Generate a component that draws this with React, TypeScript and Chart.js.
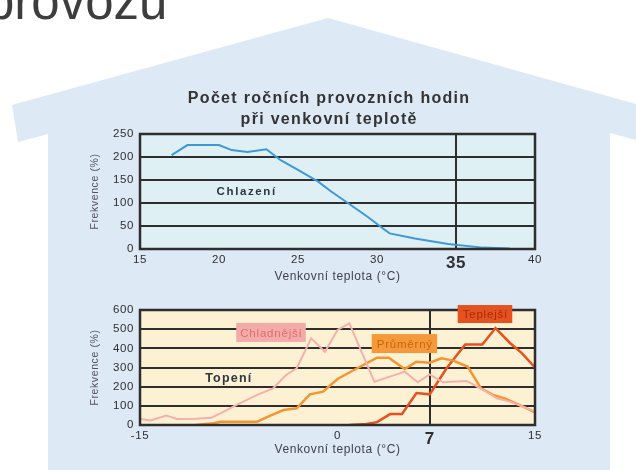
import React, { useEffect, useRef } from "react";
import { Chart, registerables } from "chart.js";

Chart.register(...registerables);
Chart.defaults.font.family = "'Liberation Sans', Arial, sans-serif";

// ---------- Cooling (Chlazení) ----------
const COOL_TEMP = [17, 18, 20, 20.8, 21.8, 23, 23.9, 25, 26.3, 27.1, 28.2, 29.4, 30.4, 30.8, 32.4, 34.5, 36.7, 38.4];
const COOL_FREQ = [204, 226, 226, 215, 211, 217, 193, 172, 146, 125, 99, 70, 44, 34, 23, 11, 3, 1];
const COOL_X_TICKS = [15, 20, 25, 30, 35, 40];
const COOL_Y_TICKS = [0, 50, 100, 150, 200, 250];
const COOL_MARK = 35;

// ---------- Heating (Topení) ----------
const COLD_TEMP = [-15, -14.2, -13, -12.2, -10.7, -9.6, -8.9, -7.7, -6.1, -4.9, -3.9, -3.1, -2, -0.95, 0, 0.9, 2.8, 4.5, 5.1, 6.1, 7, 8, 9.8, 10.3, 11.3, 12.1, 13.1, 15];
const COLD_FREQ = [31, 24, 49, 31, 33, 38, 61, 104, 157, 191, 261, 296, 452, 382, 496, 530, 226, 264, 278, 223, 264, 223, 230, 212, 174, 139, 122, 72];
const AVG_TEMP = [-10.8, -9.4, -8.9, -6.1, -5.1, -4.1, -3.1, -2.1, -1.1, 0, 1.5, 3, 3.9, 5.1, 6, 7, 7.9, 8.8, 9.9, 10.9, 11.8, 12.7, 14.1, 15];
const AVG_FREQ = [0, 9, 17, 17, 49, 78, 87, 160, 174, 240, 296, 351, 351, 292, 330, 325, 348, 336, 304, 191, 157, 139, 96, 66];
const WARM_TEMP = [0.9, 2.2, 3, 4, 4.9, 6, 7, 8.3, 9.7, 11, 12, 13.1, 14, 15];
const WARM_FREQ = [0, 5, 15, 57, 57, 167, 160, 297, 420, 420, 506, 428, 375, 300];
const HEAT_X_TICKS = [-15, 0, 7, 15];
const HEAT_Y_TICKS = [0, 100, 200, 300, 400, 500, 600];
const HEAT_MARK = 7;

const TITLE_LINES = ["Počet ročních provozních hodin", "při venkovní teplotě"];
const Y_TITLE = "Frekvence (%)";
const X_TITLE = "Venkovní teplota (°C)";

const pts = (xs: number[], ys: number[]) => xs.map((x, i) => ({ x, y: ys[i] }));

const GRID = "#2e2e2e";
const TICK_COLOR = "#2f2f33";

const framePlugin = (bg: string) => ({
  id: "frame",
  beforeDraw(chart: any) {
    const { ctx, chartArea: a } = chart;
    ctx.letterSpacing = "0.6px";
    ctx.save();
    ctx.fillStyle = bg;
    ctx.fillRect(a.left, a.top, a.right - a.left, a.bottom - a.top);
    ctx.restore();
  },
  afterDatasetsDraw(chart: any) {
    const { ctx, chartArea: a } = chart;
    ctx.save();
    ctx.strokeStyle = GRID;
    ctx.lineWidth = 2.5;
    ctx.strokeRect(a.left, a.top, a.right - a.left, a.bottom - a.top);
    ctx.restore();
  },
});

type Note = {
  text: string;
  x: number;
  y: number;
  font: string;
  color: string;
  spacing: number;
  bg?: string;
  padX?: number;
  h?: number;
};

const notesPlugin = (list: Note[]) => ({
  id: "notes",
  afterDatasetsDraw(chart: any) {
    const { ctx, scales } = chart;
    list.forEach((n) => {
      const px = scales.x.getPixelForValue(n.x);
      const py = scales.y.getPixelForValue(n.y);
      ctx.save();
      ctx.font = n.font;
      ctx.letterSpacing = n.spacing + "px";
      const w = ctx.measureText(n.text).width - n.spacing;
      if (n.bg) {
        const padX = n.padX ?? 4;
        const h = n.h ?? 19;
        ctx.fillStyle = n.bg;
        ctx.fillRect(px - w / 2 - padX, py - h / 2, w + 2 * padX, h);
      }
      ctx.fillStyle = n.color;
      ctx.textAlign = "left";
      ctx.textBaseline = "middle";
      ctx.fillText(n.text, px - w / 2, py + 1);
      ctx.restore();
    });
  },
});

const headlinePlugin = (lines: string[]) => ({
  id: "headline",
  afterDraw(chart: any) {
    const { ctx, chartArea: a } = chart;
    ctx.save();
    ctx.font = "bold 16px 'Liberation Sans', Arial, sans-serif";
    ctx.letterSpacing = "1.3px";
    ctx.fillStyle = "#333333";
    ctx.textAlign = "left";
    ctx.textBaseline = "alphabetic";
    const cx = (a.left + a.right) / 2 - 9;
    lines.forEach((t, i) => {
      const w = ctx.measureText(t).width - 1.3;
      ctx.fillText(t, cx - w / 2, a.top - 31 + i * 21);
    });
    ctx.restore();
  },
});

function makeScales(opts: {
  xTicks: number[];
  yTicks: number[];
  mark: number;
  xHeight: number;
  xTitlePad: number;
}) {
  const { xTicks, yTicks, mark, xHeight, xTitlePad } = opts;
  return {
    x: {
      type: "linear",
      min: xTicks[0],
      max: xTicks[xTicks.length - 1],
      afterBuildTicks: (s: any) => {
        s.ticks = xTicks.map((v) => ({ value: v }));
      },
      afterFit: (s: any) => {
        s.height = xHeight;
      },
      border: { display: false },
      grid: {
        drawTicks: false,
        lineWidth: 2,
        color: (c: any) => (c.tick && c.tick.value === mark ? GRID : "rgba(0,0,0,0)"),
      },
      ticks: {
        padding: 4,
        color: TICK_COLOR,
        maxRotation: 0,
        autoSkip: false,
        font: (c: any) =>
          c.tick && c.tick.value === mark ? { size: 17, weight: "bold" } : { size: 11.5 },
        callback: (v: any) => String(v),
      },
      title: {
        display: true,
        text: X_TITLE,
        color: "#42424f",
        font: { size: 12 },
        padding: { top: 0, bottom: xTitlePad },
      },
    },
    y: {
      min: yTicks[0],
      max: yTicks[yTicks.length - 1],
      afterBuildTicks: (s: any) => {
        s.ticks = yTicks.map((v) => ({ value: v }));
      },
      afterFit: (s: any) => {
        s.width = 60;
      },
      border: { display: false },
      grid: { drawTicks: false, lineWidth: 2, color: GRID },
      ticks: {
        padding: 6,
        color: TICK_COLOR,
        font: { size: 11.5 },
        callback: (v: any) => String(v),
      },
      title: {
        display: true,
        text: Y_TITLE,
        color: "#535360",
        font: { size: 10.5 },
        padding: { top: 9, bottom: 0 },
      },
    },
  };
}

function ChartBox(props: { make: () => any; left: number; top: number; width: number; height: number }) {
  const ref = useRef<HTMLCanvasElement>(null);
  useEffect(() => {
    const chart = new Chart(ref.current as HTMLCanvasElement, props.make());
    return () => chart.destroy();
  }, []);
  return (
    <canvas
      ref={ref}
      width={props.width}
      height={props.height}
      style={{
        position: "absolute",
        left: props.left,
        top: props.top,
        width: props.width,
        height: props.height,
      }}
    />
  );
}

const coolConfig = () => ({
  type: "line",
  data: {
    datasets: [
      {
        label: "Chlazení",
        data: pts(COOL_TEMP, COOL_FREQ),
        borderColor: "#3d98d8",
        borderWidth: 2,
        pointRadius: 0,
        tension: 0,
      },
    ],
  },
  options: {
    responsive: false,
    animation: false,
    layout: { padding: { top: 54, right: 25, left: 0, bottom: 0 } },
    plugins: { legend: { display: false }, tooltip: { enabled: false } },
    scales: makeScales({ xTicks: COOL_X_TICKS, yTicks: COOL_Y_TICKS, mark: COOL_MARK, xHeight: 36, xTitlePad: 1 }),
  },
  plugins: [
    framePlugin("#dff0f5"),
    notesPlugin([
      { text: "Chlazení", x: 21.7, y: 126, font: "bold 11.5px 'Liberation Sans', Arial", color: "#2f3642", spacing: 1.6 },
    ]),
    headlinePlugin(TITLE_LINES),
  ],
});

const heatConfig = () => ({
  type: "line",
  data: {
    datasets: [
      {
        label: "Chladnější",
        data: pts(COLD_TEMP, COLD_FREQ),
        borderColor: "#f4b0ad",
        borderWidth: 2,
        pointRadius: 0,
        tension: 0,
      },
      {
        label: "Průměrný",
        data: pts(AVG_TEMP, AVG_FREQ),
        borderColor: "#f59532",
        borderWidth: 2.5,
        pointRadius: 0,
        tension: 0,
      },
      {
        label: "Teplejší",
        data: pts(WARM_TEMP, WARM_FREQ),
        borderColor: "#e7511f",
        borderWidth: 2.5,
        pointRadius: 0,
        tension: 0,
      },
    ],
  },
  options: {
    responsive: false,
    animation: false,
    layout: { padding: { top: 20, right: 25, left: 0, bottom: 0 } },
    plugins: { legend: { display: false }, tooltip: { enabled: false } },
    scales: makeScales({ xTicks: HEAT_X_TICKS, yTicks: HEAT_Y_TICKS, mark: HEAT_MARK, xHeight: 45, xTitlePad: 12.8 }),
  },
  plugins: [
    framePlugin("#fdf1d3"),
    notesPlugin([
      { text: "Topení", x: -8.3, y: 248, font: "bold 12.5px 'Liberation Sans', Arial", color: "#2f3642", spacing: 1.2 },
      { text: "Chladnější", x: -5.05, y: 483, font: "11.5px 'Liberation Sans', Arial", color: "#e06e6c", spacing: 0.8, bg: "#f3abaa", padX: 4, h: 19 },
      { text: "Průměrný", x: 5.08, y: 425, font: "11.5px 'Liberation Sans', Arial", color: "#c9650f", spacing: 0.8, bg: "#f59a3a", padX: 5, h: 19 },
      { text: "Teplejší", x: 11.2, y: 579, font: "11.5px 'Liberation Sans', Arial", color: "#a52e0e", spacing: 0.8, bg: "#e5521f", padX: 5, h: 18 },
    ]),
  ],
});

export default function App() {
  return (
    <div
      style={{
        position: "absolute",
        left: 0,
        top: 0,
        width: 636,
        height: 470,
        overflow: "hidden",
        background: "#ffffff",
      }}
    >
      <div
        style={{
          position: "absolute",
          left: 0,
          top: 0,
          width: 636,
          height: 470,
          background: "#dde9f4",
          clipPath:
            "polygon(328px 18px, 636px 104px, 636px 140px, 610px 133px, 610px 470px, 48px 470px, 48px 134px, 18px 142px, 12px 105px)",
        }}
      />
      <div
        style={{
          position: "absolute",
          left: -14,
          top: -23,
          fontFamily: "'Liberation Sans', Arial, sans-serif",
          fontSize: 51,
          lineHeight: "50px",
          color: "#3d3d3d",
          whiteSpace: "nowrap",
        }}
      >
        provozu
      </div>
      <ChartBox make={coolConfig} left={80} top={80} width={480} height={205} />
      <ChartBox make={heatConfig} left={80} top={290} width={480} height={180} />
    </div>
  );
}
